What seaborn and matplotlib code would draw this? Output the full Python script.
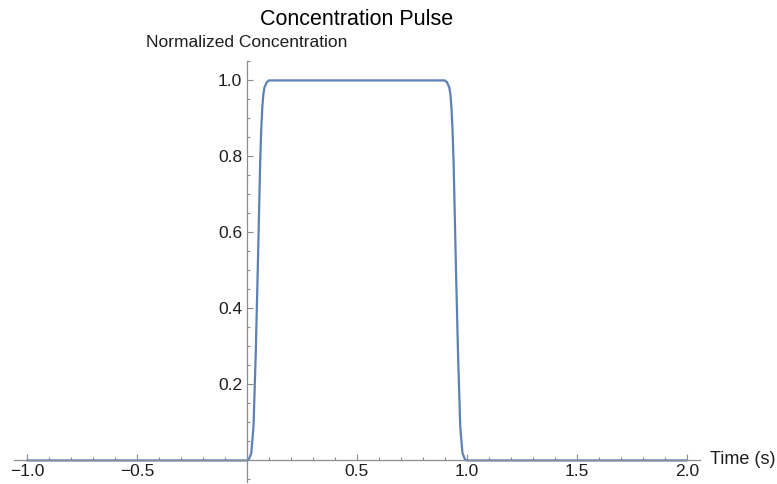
import matplotlib
matplotlib.use("Agg")
import matplotlib.pyplot as plt
import seaborn as sns
import pandas as pd
from matplotlib.ticker import FixedLocator, MultipleLocator

# values
time_s = [-1.0, 0.0, 0.005, 0.01, 0.02, 0.03, 0.04, 0.05, 0.06, 0.065, 0.07, 0.075, 0.08,
          0.09, 0.10, 0.90, 0.91, 0.92, 0.925, 0.93, 0.935, 0.94, 0.95, 0.96, 0.97,
          0.98, 0.99, 0.995, 1.0, 2.0]
concentration = [0.0, 0.0, 0.001, 0.005, 0.02, 0.09, 0.28, 0.52, 0.78, 0.87, 0.93, 0.965,
                 0.982, 0.995, 1.0, 1.0, 0.995, 0.982, 0.965, 0.93, 0.87, 0.78, 0.52,
                 0.28, 0.09, 0.02, 0.005, 0.001, 0.0, 0.0]

x_ticks = [-1.0, -0.5, 0.5, 1.0, 1.5, 2.0]
y_ticks = [0.2, 0.4, 0.6, 0.8, 1.0]

df = pd.DataFrame({"Time": time_s, "Concentration": concentration})

sns.set_theme(style="white")
plt.rcParams["font.family"] = ["Liberation Sans", "DejaVu Sans"]

fig = plt.figure(figsize=(7.77, 4.84), dpi=100)
ax = fig.add_axes([0.0178, 0.0031, 0.883, 0.870])

sns.lineplot(data=df, x="Time", y="Concentration", ax=ax, color="#5E81B5",
             linewidth=1.6, sort=False)

ax.set_xlim(-1.06, 2.06)
ax.set_ylim(-0.058, 1.05)

# axes through the origin, Mathematica style
ax.spines["left"].set_position(("data", 0))
ax.spines["bottom"].set_position(("data", 0))
ax.spines["top"].set_visible(False)
ax.spines["right"].set_visible(False)
for s in ("left", "bottom"):
    ax.spines[s].set_color("#8c8c8c")
    ax.spines[s].set_linewidth(0.9)

ax.xaxis.set_major_locator(FixedLocator(x_ticks))
ax.xaxis.set_minor_locator(MultipleLocator(0.1))
ax.yaxis.set_major_locator(FixedLocator(y_ticks))
ax.yaxis.set_minor_locator(MultipleLocator(0.05))
ax.tick_params(which="both", direction="in", color="#8c8c8c", width=0.8,
               labelsize=12.5, labelcolor="#1e1e1e")
ax.tick_params(which="major", length=4)
ax.tick_params(which="minor", length=2.2)
ax.tick_params(axis="x", pad=2.5)
ax.tick_params(axis="y", pad=3.5)
ax.xaxis.set_ticks_position("bottom")
ax.yaxis.set_ticks_position("left")

ax.set_xlabel("")
ax.set_ylabel("")

ax.annotate("Concentration Pulse", xy=(0.5, 1), xycoords="axes fraction",
            xytext=(0, 30), textcoords="offset points", ha="center", va="center",
            fontsize=15.5, color="black")
ax.annotate("Normalized Concentration", xy=(0, 1), xycoords=("data", "axes fraction"),
            xytext=(0, 13.5), textcoords="offset points", ha="center", va="center",
            fontsize=12.5, color="#1e1e1e")
ax.annotate("Time (s)", xy=(1, 0), xycoords=("axes fraction", "data"),
            xytext=(7, 1), textcoords="offset points", ha="left", va="center",
            fontsize=13, color="#1e1e1e")

fig.savefig("out.png", dpi=100)
